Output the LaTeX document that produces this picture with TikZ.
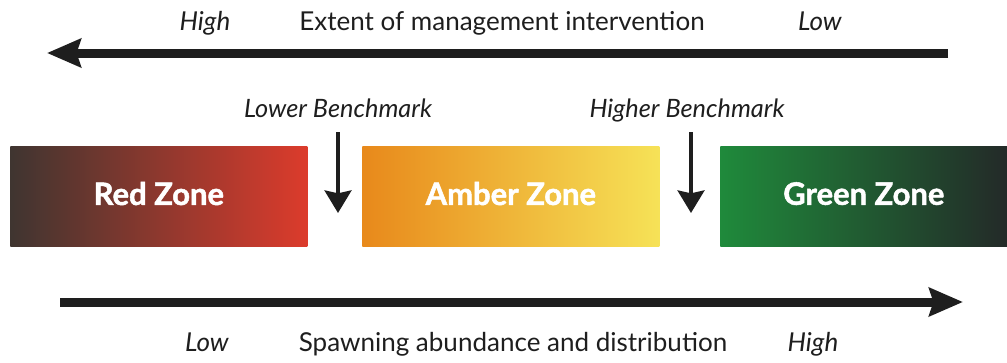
\documentclass[tikz,border=0pt]{standalone}
\usepackage{fontspec}
\setmainfont{Lato}
\newfontfamily\heavyfont{Lato}[BoldFeatures={FakeBold=1.6}]
\usetikzlibrary{arrows.meta,positioning}
\definecolor{ink}{HTML}{1E1E1E}
\definecolor{redL}{HTML}{3F3530}
\definecolor{redR}{HTML}{DC3B2C}
\definecolor{amberL}{HTML}{E8891B}
\definecolor{amberR}{HTML}{F6E257}
\definecolor{greenL}{HTML}{1F8A3B}
\definecolor{greenR}{HTML}{232A28}
\tikzset{
  every node/.style={text=ink},
  axis label/.style={font=\fontsize{18.5}{22}\selectfont,anchor=base},
  ends/.style={font=\fontsize{18.5}{22}\selectfont\itshape,anchor=base},
  mark label/.style={font=\fontsize{18}{22}\selectfont\itshape,anchor=base},
  zone/.style={anchor=north west,inner sep=0pt,minimum height=2.5cm,text=white,
    text depth=4pt,font=\heavyfont\fontsize{22}{26}\selectfont\bfseries},
  axis/.style={line width=6.4pt,draw=ink,-{Stealth[length=24pt,width=20pt,inset=3pt]}},
  drop/.style={line width=2.8pt,draw=ink,-{Stealth[length=16pt,width=19pt,inset=2pt]}},
}

\begin{document}
\begin{tikzpicture}[x=0.025cm,y=-0.025cm]
  \useasboundingbox[fill=white] (0,0) rectangle (1007,362);

  % management intervention
  \coordinate (mi0) at (948,53);
  \coordinate (mi1) at (47,53);
  \draw[axis] (mi0) -- (mi1);
  \node[ends] (miH) at (205,30) {High};
  \node[axis label] (miT) at (502,30) {Extent of management intervention};
  \node[ends] (miL) at (820,30) {Low};

  % zones
  \node[zone,minimum width=7.425cm,left color=redL,right color=redR] (red) at (10,146) {Red Zone};
  \node[zone,minimum width=7.425cm,left color=amberL,right color=amberR] (amber) at (362,146) {Amber Zone};
  \node[zone,minimum width=7.175cm,left color=greenL,right color=greenR] (green) at (720,146) {Green Zone};

  % benchmarks
  \node[mark label] (lb) at (338,117) {Lower Benchmark};
  \node[mark label] (hb) at (687,117) {Higher Benchmark};
  \coordinate (lb0) at (338,132);
  \coordinate (lb1) at (338,213);
  \coordinate (hb0) at (691,132);
  \coordinate (hb1) at (691,213);
  \draw[drop] (lb0) -- (lb1);
  \draw[drop] (hb0) -- (hb1);

  % spawning abundance
  \coordinate (sa0) at (60,302);
  \coordinate (sa1) at (963,302);
  \draw[axis] (sa0) -- (sa1);
  \node[ends] (saL) at (207,351) {Low};
  \node[axis label] (saT) at (513,351) {Spawning abundance and distribution};
  \node[ends] (saH) at (813,351) {High};
\end{tikzpicture}
\end{document}
